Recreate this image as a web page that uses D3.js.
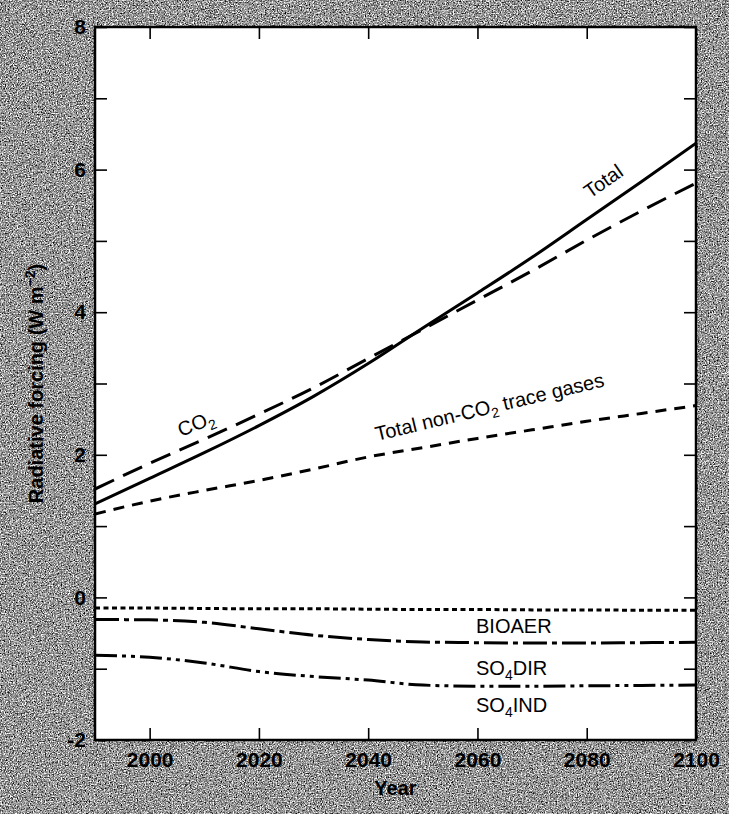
<!DOCTYPE html>
<html>
<head>
<meta charset="utf-8">
<script src="https://cdn.jsdelivr.net/npm/d3@7"></script>
<style>
  html, body { margin: 0; padding: 0; background: #8c8c8c; }
  svg { display: block; }
</style>
</head>
<body>
<script>
// ---- Data ----
const years = [1990, 2000, 2010, 2020, 2030, 2040, 2050, 2060, 2070, 2080, 2090, 2100];
const totalForcing = [1.31, 1.67, 2.03, 2.41, 2.82, 3.28, 3.78, 4.27, 4.77, 5.30, 5.83, 6.37];
const co2Forcing   = [1.52, 1.88, 2.22, 2.57, 2.94, 3.35, 3.76, 4.17, 4.58, 5.01, 5.42, 5.81];
const traceGases   = [1.17, 1.35, 1.50, 1.64, 1.80, 1.97, 2.10, 2.23, 2.35, 2.47, 2.58, 2.69];
const bioaer       = [-0.15, -0.15, -0.155, -0.16, -0.16, -0.165, -0.17, -0.17, -0.175, -0.175, -0.18, -0.18];
const so4dir       = [-0.31, -0.315, -0.35, -0.44, -0.53, -0.59, -0.625, -0.635, -0.64, -0.64, -0.635, -0.63];
const so4ind       = [-0.81, -0.84, -0.92, -1.04, -1.11, -1.16, -1.23, -1.245, -1.245, -1.24, -1.235, -1.23];

const xTickValues = [2000, 2020, 2040, 2060, 2080, 2100];
const yTickValues = [-2, -1, 0, 1, 2, 3, 4, 5, 6, 7, 8];

const W = 729, H = 814;
const m = { left: 95, right: 33, top: 27, bottom: 74 };

const svg = d3.select("body").append("svg").attr("width", W).attr("height", H);

// grainy halftone-like background
const defs = svg.append("defs");
const f = defs.append("filter").attr("id", "grain")
  .attr("x", 0).attr("y", 0).attr("width", W).attr("height", H)
  .attr("filterUnits", "userSpaceOnUse")
  .attr("color-interpolation-filters", "sRGB");
f.append("feTurbulence").attr("type", "fractalNoise").attr("baseFrequency", 0.75)
  .attr("numOctaves", 3).attr("seed", 7).attr("result", "n");
f.append("feColorMatrix").attr("type", "matrix")
  .attr("values", "0.33 0.33 0.33 0 0  0.33 0.33 0.33 0 0  0.33 0.33 0.33 0 0  0 0 0 0 1")
  .attr("result", "g");
const ct = f.append("feComponentTransfer");
["feFuncR", "feFuncG", "feFuncB"].forEach(k =>
  ct.append(k).attr("type", "linear").attr("slope", 3.2).attr("intercept", -1.0));
svg.append("rect").attr("x", 0).attr("y", 0).attr("width", W).attr("height", H)
  .attr("filter", "url(#grain)");

const x = d3.scaleLinear().domain([1990, 2100]).range([m.left, W - m.right]);
const y = d3.scaleLinear().domain([-2, 8]).range([H - m.bottom, m.top]);

// plot area
svg.append("rect")
  .attr("x", x(1990)).attr("y", y(8))
  .attr("width", x(2100) - x(1990)).attr("height", y(-2) - y(8))
  .attr("fill", "#fff");

const font = "'Liberation Sans', Arial, Helvetica, sans-serif";

function styleAxis(g, showLabels) {
  g.select(".domain").remove();
  g.selectAll(".tick line").attr("stroke", "#000").attr("stroke-width", 1.6);
  g.selectAll(".tick text")
    .attr("fill", "#000")
    .style("font-family", font)
    .style("font-weight", "bold")
    .style("font-size", "21px");
  if (!showLabels) g.selectAll(".tick text").remove();
}

// left axis
svg.append("g").attr("transform", `translate(${x(1990)},0)`)
  .call(d3.axisLeft(y).tickValues(yTickValues).tickSize(-12).tickPadding(9)
    .tickFormat(d => (d % 2 === 0 ? String(d) : "")))
  .call(g => styleAxis(g, true));
// right axis
svg.append("g").attr("transform", `translate(${x(2100)},0)`)
  .call(d3.axisRight(y).tickValues(yTickValues).tickSize(-12))
  .call(g => styleAxis(g, false));
// bottom axis
svg.append("g").attr("transform", `translate(0,${y(-2)})`)
  .call(d3.axisBottom(x).tickValues(xTickValues).tickSize(-12).tickPadding(12)
    .tickFormat(d3.format("d")))
  .call(g => styleAxis(g, true));
// top axis
svg.append("g").attr("transform", `translate(0,${y(8)})`)
  .call(d3.axisTop(x).tickValues(xTickValues.slice(0, 5)).tickSize(-12))
  .call(g => styleAxis(g, false));

// frame
svg.append("rect")
  .attr("x", x(1990)).attr("y", y(8))
  .attr("width", x(2100) - x(1990)).attr("height", y(-2) - y(8))
  .attr("fill", "none").attr("stroke", "#000").attr("stroke-width", 2.5);

// series
const series = [
  { name: "Total", values: totalForcing, dash: null },
  { name: "CO2", values: co2Forcing, dash: "21 10" },
  { name: "Trace", values: traceGases, dash: "11 8" },
  { name: "BIOAER", values: bioaer, dash: "5 3.5" },
  { name: "SO4DIR", values: so4dir, dash: "24 5 5 5" },
  { name: "SO4IND", values: so4ind, dash: "22 5 4 5 4 5" }
];
const line = d3.line().x((d, i) => x(years[i])).y(d => y(d)).curve(d3.curveMonotoneX);
const clipId = "plotclip";
defs.append("clipPath").attr("id", clipId).append("rect")
  .attr("x", x(1990)).attr("y", y(8))
  .attr("width", x(2100) - x(1990)).attr("height", y(-2) - y(8));
svg.append("g").attr("clip-path", `url(#${clipId})`)
  .selectAll("path").data(series).join("path")
  .attr("d", d => line(d.values))
  .attr("fill", "none").attr("stroke", "#000").attr("stroke-width", 3)
  .attr("stroke-dasharray", d => d.dash);

// labels
function label(txt, sub, rest, px, py, rot) {
  const t = svg.append("text")
    .attr("transform", `translate(${px},${py}) rotate(${rot})`)
    .style("font-family", font).style("font-size", "20px").attr("fill", "#000");
  t.append("tspan").text(txt);
  if (sub) {
    t.append("tspan").attr("dy", 5).style("font-size", "14px").text(sub);
    t.append("tspan").attr("dy", -5).text(rest);
  }
  return t;
}
label("CO", "2", "", 181, 437, -22);
label("Total", null, null, 590, 199, -35);
label("Total non-CO", "2", " trace gases", 377, 441, -13.5);
label("BIOAER", null, null, 476, 633, 0);
label("SO", "4", "DIR", 476, 675, 0);
label("SO", "4", "IND", 476, 712, 0);

// axis titles
svg.append("text")
  .attr("x", x(2045)).attr("y", 795).attr("text-anchor", "middle")
  .style("font-family", font).style("font-weight", "bold").style("font-size", "20px")
  .text("Year");

const yt = svg.append("text")
  .attr("transform", `translate(43,${(y(8) + y(-2)) / 2}) rotate(-90)`)
  .attr("text-anchor", "middle")
  .style("font-family", font).style("font-weight", "bold").style("font-size", "20px");
yt.append("tspan").text("Radiative forcing (W m");
yt.append("tspan").attr("dy", -8).style("font-size", "14px").text("\u22122");
yt.append("tspan").attr("dy", 8).text(")");
</script>
</body>
</html>
